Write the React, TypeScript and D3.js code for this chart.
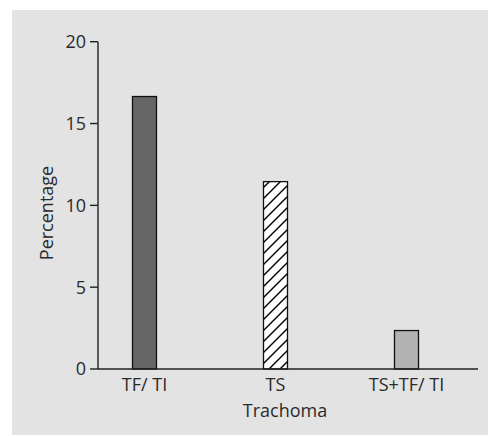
import { useEffect } from 'react'
import { scaleLinear, scaleBand } from 'd3'

const categories = ['TF/ TI', 'TS', 'TS+TF/ TI']
const values = [16.65, 11.45, 2.35]
const fills = ['#666666', 'url(#hatch)', '#b3b3b3']
const yTicks = [0, 5, 10, 15, 20]

const W = 488
const H = 436
const font = "'Open Sans', 'Noto Sans', sans-serif"
const txt = '#2a2a2a'

const App = () => {
  useEffect(() => {
    document.body.style.margin = '0'
  }, [])

  const x0 = 98
  const x1 = 478
  const yScale = scaleLinear().domain([0, 20]).range([369, 41.7])
  const xScale = scaleBand().domain(categories).range([79, 472]).padding(0)
  const barW = 24

  return (
    <svg width={W} height={H} viewBox={`0 0 ${W} ${H}`} style={{ display: 'block' }}>
      <defs>
        <pattern id="hatch" patternUnits="userSpaceOnUse" width={11} height={11}>
          <rect width={11} height={11} fill="#fff" />
          <line x1={-1} y1={12} x2={12} y2={-1} stroke="#000" strokeWidth={1.4} />
          <line x1={-6.5} y1={6.5} x2={6.5} y2={-6.5} stroke="#000" strokeWidth={1.4} />
          <line x1={4.5} y1={17.5} x2={17.5} y2={4.5} stroke="#000" strokeWidth={1.4} />
        </pattern>
      </defs>
      <rect x={12} y={10} width={W - 12} height={425} fill="#e3e3e3" />

      {categories.map((c, i) => {
        const cx = xScale(c)! + xScale.bandwidth() / 2
        return (
          <rect key={c} x={cx - barW / 2} y={yScale(values[i])} width={barW}
            height={yScale(0) - yScale(values[i])} fill={fills[i]} stroke="#111" strokeWidth={1.3} />
        )
      })}

      {/* y axis */}
      <line x1={x0} x2={x0} y1={yScale(20)} y2={yScale(0)} stroke="#222" strokeWidth={1.4} />
      {yTicks.map(t => (
        <g key={t}>
          <line x1={x0 - 8} x2={x0} y1={yScale(t)} y2={yScale(t)} stroke="#222" strokeWidth={1.4} />
          <text x={86} y={yScale(t)} dy="0.36em" textAnchor="end" fontSize={18} fontFamily={font} fill={txt}>{t}</text>
        </g>
      ))}
      {/* x axis */}
      <line x1={x0} x2={x1} y1={yScale(0)} y2={yScale(0)} stroke="#222" strokeWidth={1.4} />
      {categories.map(c => (
        <text key={c} x={xScale(c)! + xScale.bandwidth() / 2} y={391} textAnchor="middle"
          fontSize={18} fontFamily={font} fill={txt}>{c}</text>
      ))}

      <text x={285} y={417} textAnchor="middle" fontSize={18} fontFamily={font} fill={txt}>Trachoma</text>
      <text transform="translate(53,213) rotate(-90)" textAnchor="middle" fontSize={18} fontFamily={font} fill={txt}>Percentage</text>
    </svg>
  )
}

export default App
